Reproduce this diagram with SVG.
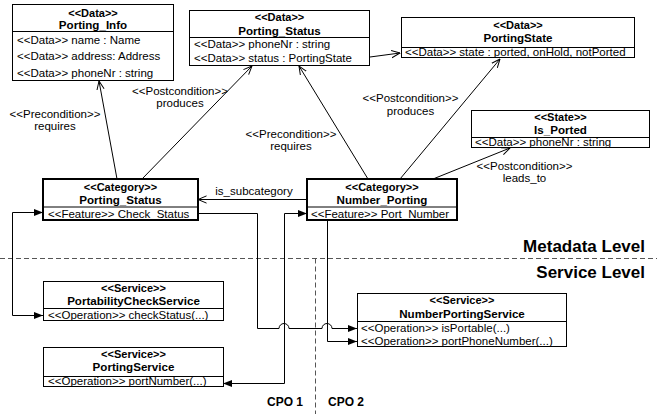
<svg xmlns="http://www.w3.org/2000/svg" width="657" height="414" viewBox="0 0 657 414">
<defs>
<style>
text{font-family:"Liberation Sans",Arial,sans-serif;fill:#000}
.box{fill:#fff;stroke:#000;stroke-width:1}
.cat{fill:#fff;stroke:#000;stroke-width:2}
.div{stroke:#000;stroke-width:1}
.st{font-size:11px;font-weight:bold;text-anchor:middle}
.nm{font-size:11.6px;font-weight:bold;text-anchor:middle}
.row{font-size:11.5px}
.lbl{font-size:11.5px;text-anchor:middle}
.lvl{font-size:17px;font-weight:bold;text-anchor:end}
.cpo{font-size:12px;font-weight:bold}
.conn{fill:none;stroke:#000;stroke-width:1}
.open{marker-end:url(#open)}
.fill{marker-end:url(#tri)}
.both{marker-start:url(#tri);marker-end:url(#tri)}
.dash{fill:none;stroke:#555;stroke-width:1;stroke-dasharray:5 3}
</style>
<marker id="open" viewBox="0 0 10 10" refX="9.5" refY="5" markerWidth="9" markerHeight="9" markerUnits="userSpaceOnUse" orient="auto">
<path d="M0,1 L9.5,5 L0,9" fill="none" stroke="#000" stroke-width="1.1"/>
</marker>
<marker id="tri" viewBox="0 0 10 10" refX="10" refY="5" markerWidth="9" markerHeight="9" markerUnits="userSpaceOnUse" orient="auto-start-reverse">
<path d="M0,1 L10,5 L0,9 z" fill="#000"/>
</marker>
</defs>

<g id="levels">
<path class="dash" d="M0,258.5 H657 M315.5,258.5 V414"/>
<text class="lvl" x="645" y="251.5">Metadata Level</text>
<text class="lvl" x="645" y="277.5">Service Level</text>
<text class="cpo" x="267" y="406">CPO 1</text>
<text class="cpo" x="328" y="406">CPO 2</text>
</g>

<g id="connectors">
<line class="conn open" x1="117" y1="179" x2="99" y2="81"/>
<line class="conn open" x1="142" y1="179" x2="252" y2="66"/>
<line class="conn open" x1="368" y1="179" x2="299" y2="66"/>
<line class="conn open" x1="400" y1="179" x2="500" y2="59"/>
<line class="conn open" x1="433" y1="179" x2="510" y2="148"/>
<line class="conn open" x1="355" y1="59" x2="400" y2="53"/>
<line class="conn open" x1="307" y1="199.5" x2="198" y2="199.5"/>
<path class="conn both" d="M43,212.5 H12.5 V315.5 H43"/>
<path class="conn fill" d="M198,213.5 H257.5 V328.5 H279 A5,5 0 0 1 289,328.5 H322 A5,5 0 0 1 332,328.5 H357"/>
<path class="conn fill" d="M327.5,220 V341.5 H357"/>
<path class="conn both" d="M307,213.5 H284.5 V383.5 H223"/>
<text class="lbl" x="55" y="118">&lt;&lt;Precondition&gt;&gt;</text>
<text class="lbl" x="55" y="130">requires</text>
<text class="lbl" x="180" y="94.5">&lt;&lt;Postcondition&gt;&gt;</text>
<text class="lbl" x="180" y="106.5">produces</text>
<text class="lbl" x="291" y="137.5">&lt;&lt;Precondition&gt;&gt;</text>
<text class="lbl" x="291" y="149.5">requires</text>
<text class="lbl" x="410.5" y="102">&lt;&lt;Postcondition&gt;&gt;</text>
<text class="lbl" x="410.5" y="114.5">produces</text>
<text class="lbl" x="524.5" y="170">&lt;&lt;Postcondition&gt;&gt;</text>
<text class="lbl" x="524.5" y="182">leads_to</text>
<text class="lbl" x="254" y="194.5">is_subcategory</text>
</g>

<g id="porting-info">
<rect class="box" x="12.5" y="4.5" width="161" height="76"/>
<line class="div" x1="12.5" y1="31.5" x2="173.5" y2="31.5"/>
<text class="st" x="93" y="16.5">&lt;&lt;Data&gt;&gt;</text>
<text class="nm" x="93" y="29">Porting_Info</text>
<text class="row" x="17" y="43.5">&lt;&lt;Data&gt;&gt; name : Name</text>
<text class="row" x="17" y="60">&lt;&lt;Data&gt;&gt; address: Address</text>
<text class="row" x="17" y="76.5">&lt;&lt;Data&gt;&gt; phoneNr : string</text>
</g>

<g id="porting-status-data">
<rect class="box" x="189.5" y="10.5" width="180" height="55"/>
<line class="div" x1="189.5" y1="37.5" x2="369.5" y2="37.5"/>
<text class="st" x="279.5" y="21">&lt;&lt;Data&gt;&gt;</text>
<text class="nm" x="279.5" y="35">Porting_Status</text>
<text class="row" x="194" y="48">&lt;&lt;Data&gt;&gt; phoneNr : string</text>
<text class="row" x="194" y="62">&lt;&lt;Data&gt;&gt; status : PortingState</text>
</g>

<g id="porting-state">
<rect class="box" x="401.5" y="17.5" width="233" height="40"/>
<line class="div" x1="401.5" y1="47.5" x2="634.5" y2="47.5"/>
<text class="st" x="518" y="29">&lt;&lt;Data&gt;&gt;</text>
<text class="nm" x="518" y="42">PortingState</text>
<text class="row" x="405" y="56">&lt;&lt;Data&gt;&gt; state : ported, onHold, notPorted</text>
</g>

<g id="is-ported">
<rect class="box" x="471.5" y="110.5" width="178" height="37"/>
<line class="div" x1="471.5" y1="137.5" x2="649.5" y2="137.5"/>
<text class="st" x="560.5" y="121">&lt;&lt;State&gt;&gt;</text>
<text class="nm" x="560.5" y="134">Is_Ported</text>
<text class="row" x="475" y="146">&lt;&lt;Data&gt;&gt; phoneNr : string</text>
</g>

<g id="cat-porting-status">
<rect class="cat" x="43" y="179" width="155" height="41"/>
<line class="div" x1="43" y1="207" x2="198" y2="207"/>
<text class="st" x="120.5" y="191">&lt;&lt;Category&gt;&gt;</text>
<text class="nm" x="120.5" y="204">Porting_Status</text>
<text class="row" x="48" y="217.5">&lt;&lt;Feature&gt;&gt; Check_Status</text>
</g>

<g id="cat-number-porting">
<rect class="cat" x="307" y="179" width="150" height="41"/>
<line class="div" x1="307" y1="207" x2="457" y2="207"/>
<text class="st" x="382" y="191">&lt;&lt;Category&gt;&gt;</text>
<text class="nm" x="382" y="204">Number_Porting</text>
<text class="row" x="311" y="217.5">&lt;&lt;Feature&gt;&gt; Port_Number</text>
</g>

<g id="portability-check-service">
<rect class="box" x="43.5" y="281.5" width="180" height="39"/>
<line class="div" x1="43.5" y1="308.5" x2="223.5" y2="308.5"/>
<text class="st" x="133.5" y="292">&lt;&lt;Service&gt;&gt;</text>
<text class="nm" x="133.5" y="305">PortabilityCheckService</text>
<text class="row" x="48" y="318.5">&lt;&lt;Operation&gt;&gt; checkStatus(...)</text>
</g>

<g id="porting-service">
<rect class="box" x="43.5" y="347.5" width="180" height="39"/>
<line class="div" x1="43.5" y1="376.5" x2="223.5" y2="376.5"/>
<text class="st" x="133.5" y="357.5">&lt;&lt;Service&gt;&gt;</text>
<text class="nm" x="133.5" y="371">PortingService</text>
<text class="row" x="48" y="385">&lt;&lt;Operation&gt;&gt; portNumber(...)</text>
</g>

<g id="number-porting-service">
<rect class="box" x="357.5" y="293.5" width="209" height="53"/>
<line class="div" x1="357.5" y1="321.5" x2="566.5" y2="321.5"/>
<text class="st" x="462" y="304">&lt;&lt;Service&gt;&gt;</text>
<text class="nm" x="462" y="318">NumberPortingService</text>
<text class="row" x="361" y="332">&lt;&lt;Operation&gt;&gt; isPortable(...)</text>
<text class="row" x="361" y="345">&lt;&lt;Operation&gt;&gt; portPhoneNumber(...)</text>
</g>
</svg>
